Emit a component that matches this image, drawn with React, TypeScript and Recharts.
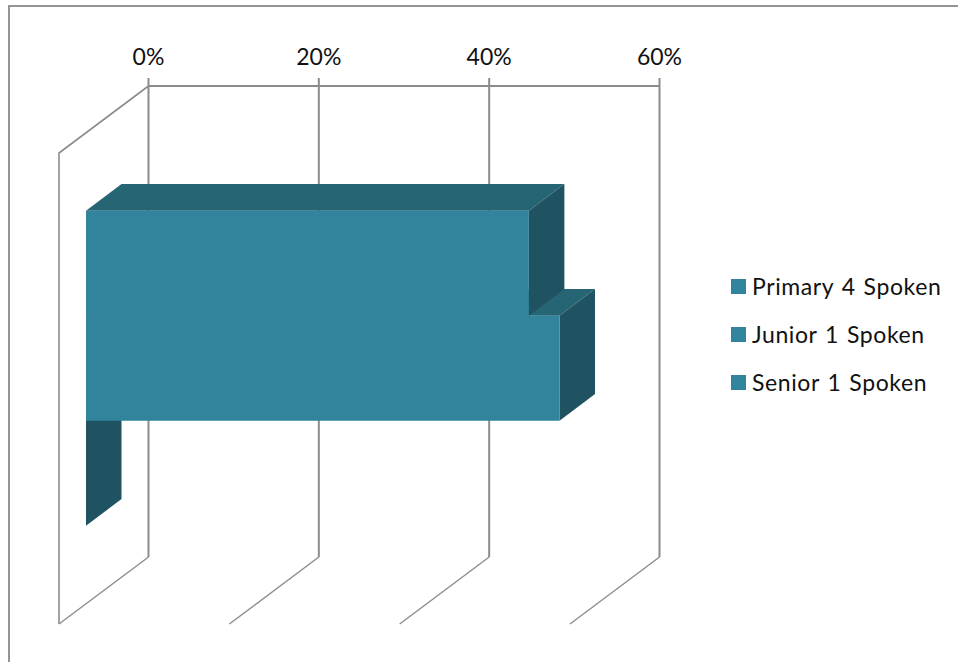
import React from 'react';
import { BarChart, Bar, XAxis, YAxis, CartesianGrid, Legend } from 'recharts';

const categories = ['Spoken'];
const seriesNames = ['Primary 4 Spoken', 'Junior 1 Spoken', 'Senior 1 Spoken'];
const seriesValues = [52, 55.6, 0];
const axisTicks = [0, 20, 40, 60];

const FRONT = '#31849b';
const TOP = '#256574';
const SIDE = '#1f5361';
const GRID = '#8c8c8c';
const FONT = 'Lato, "Open Sans", sans-serif';

const WIDTH = 958;
const HEIGHT = 662;
const MARGIN = { top: 56, right: 298.5, left: 148.5, bottom: 105 };
const AXIS_HEIGHT = 30;
const PLOT_TOP = MARGIN.top + AXIS_HEIGHT;
const PLOT_MIDDLE = (PLOT_TOP + HEIGHT - MARGIN.bottom) / 2;

// Oblique projection of the 3D box: wall depth, bar depth and where the bars' front plane sits
const WALL_DX = -89.5;
const WALL_DY = 67;
const BAR_DX = 35.5;
const BAR_DY = -26.7;
const FRONT_DX = -62.5;
const FRONT_DY = 47.4;

const chartData = categories.map((name) => {
  const row: Record<string, string | number> = { name };
  seriesNames.forEach((series, i) => {
    row[series] = seriesValues[i];
  });
  return row;
});

const points = (list: number[][]) => list.map((p) => p.join(',')).join(' ');

/**
 * Bars are declared bottom-up so the upper one paints over the lower ones,
 * hence the y position gets mirrored around the middle of the plot.
 */
const Box3D = ({ x, y, width, height }: any) => {
  const left = x + FRONT_DX;
  const right = left + width;
  const top = 2 * PLOT_MIDDLE - y - height + FRONT_DY;
  const bottom = top + height;
  return (
    <g>
      <polygon
        fill={TOP}
        points={points([
          [left, top],
          [right, top],
          [right + BAR_DX, top + BAR_DY],
          [left + BAR_DX, top + BAR_DY],
        ])}
      />
      <polygon
        fill={SIDE}
        points={points([
          [right, top],
          [right + BAR_DX, top + BAR_DY],
          [right + BAR_DX, bottom + BAR_DY],
          [right, bottom],
        ])}
      />
      {width > 0 && <rect x={left} y={top} width={width} height={height} fill={FRONT} />}
    </g>
  );
};

/**
 * Back wall gridline with its diagonal across the floor.
 * The first line also closes the left wall.
 */
const WallLine = ({ x1, y1, y2, index }: any) => {
  const line = { stroke: GRID, fill: 'none' };
  return (
    <g>
      <line {...line} strokeWidth={2} x1={x1} y1={y1} x2={x1} y2={y2} />
      <line {...line} strokeWidth={1.4} x1={x1} y1={y2} x2={x1 + WALL_DX} y2={y2 + WALL_DY} />
      {index === 0 && (
        <polyline
          {...line}
          strokeWidth={1.6}
          points={points([
            [x1, y1],
            [x1 + WALL_DX, y1 + WALL_DY],
            [x1 + WALL_DX, y2 + WALL_DY],
          ])}
        />
      )}
    </g>
  );
};

const LegendList = () => (
  <div style={{ fontFamily: FONT, fontSize: 23, letterSpacing: 0.6, wordSpacing: 1.5, color: '#111' }}>
    {seriesNames.map((name) => (
      <div key={name} style={{ display: 'flex', alignItems: 'center', height: 48, whiteSpace: 'nowrap' }}>
        <span style={{ width: 15, height: 15, marginRight: 6, background: FRONT, display: 'inline-block' }} />
        {name}
      </div>
    ))}
  </div>
);

export default function App() {
  return (
    <div style={{ position: 'absolute', left: 0, top: 0, width: WIDTH, height: HEIGHT, background: '#fff' }}>
      <div
        style={{
          position: 'absolute',
          left: 8,
          top: 5,
          right: 0,
          bottom: 0,
          borderTop: '2px solid #949494',
          borderLeft: '2px solid #949494',
        }}
      />
      <BarChart
        width={WIDTH}
        height={HEIGHT}
        data={chartData}
        layout="vertical"
        margin={MARGIN}
        barCategoryGap="16.7%"
        barGap={0}
        style={{ position: 'absolute', left: 0, top: 0 }}
      >
        <CartesianGrid horizontal={false} vertical={(props: any) => <WallLine key={props.index} {...props} />} />
        <XAxis
          type="number"
          orientation="top"
          height={AXIS_HEIGHT}
          domain={[0, 60]}
          ticks={axisTicks}
          interval={0}
          tickFormatter={(v) => `${v}%`}
          tickSize={8}
          tickMargin={13}
          tick={{ fill: '#111', fontFamily: FONT, fontSize: 23 }}
          axisLine={{ stroke: GRID, strokeWidth: 2 }}
          tickLine={{ stroke: GRID, strokeWidth: 2 }}
        />
        <YAxis type="category" dataKey="name" hide />
        <Legend
          layout="vertical"
          align="center"
          verticalAlign="middle"
          content={<LegendList />}
          wrapperStyle={{ left: 731, top: 262, width: 227 }}
        />
        {[...seriesNames].reverse().map((name) => (
          <Bar key={name} dataKey={name} fill={FRONT} shape={<Box3D />} isAnimationActive={false} />
        ))}
      </BarChart>
    </div>
  );
}
